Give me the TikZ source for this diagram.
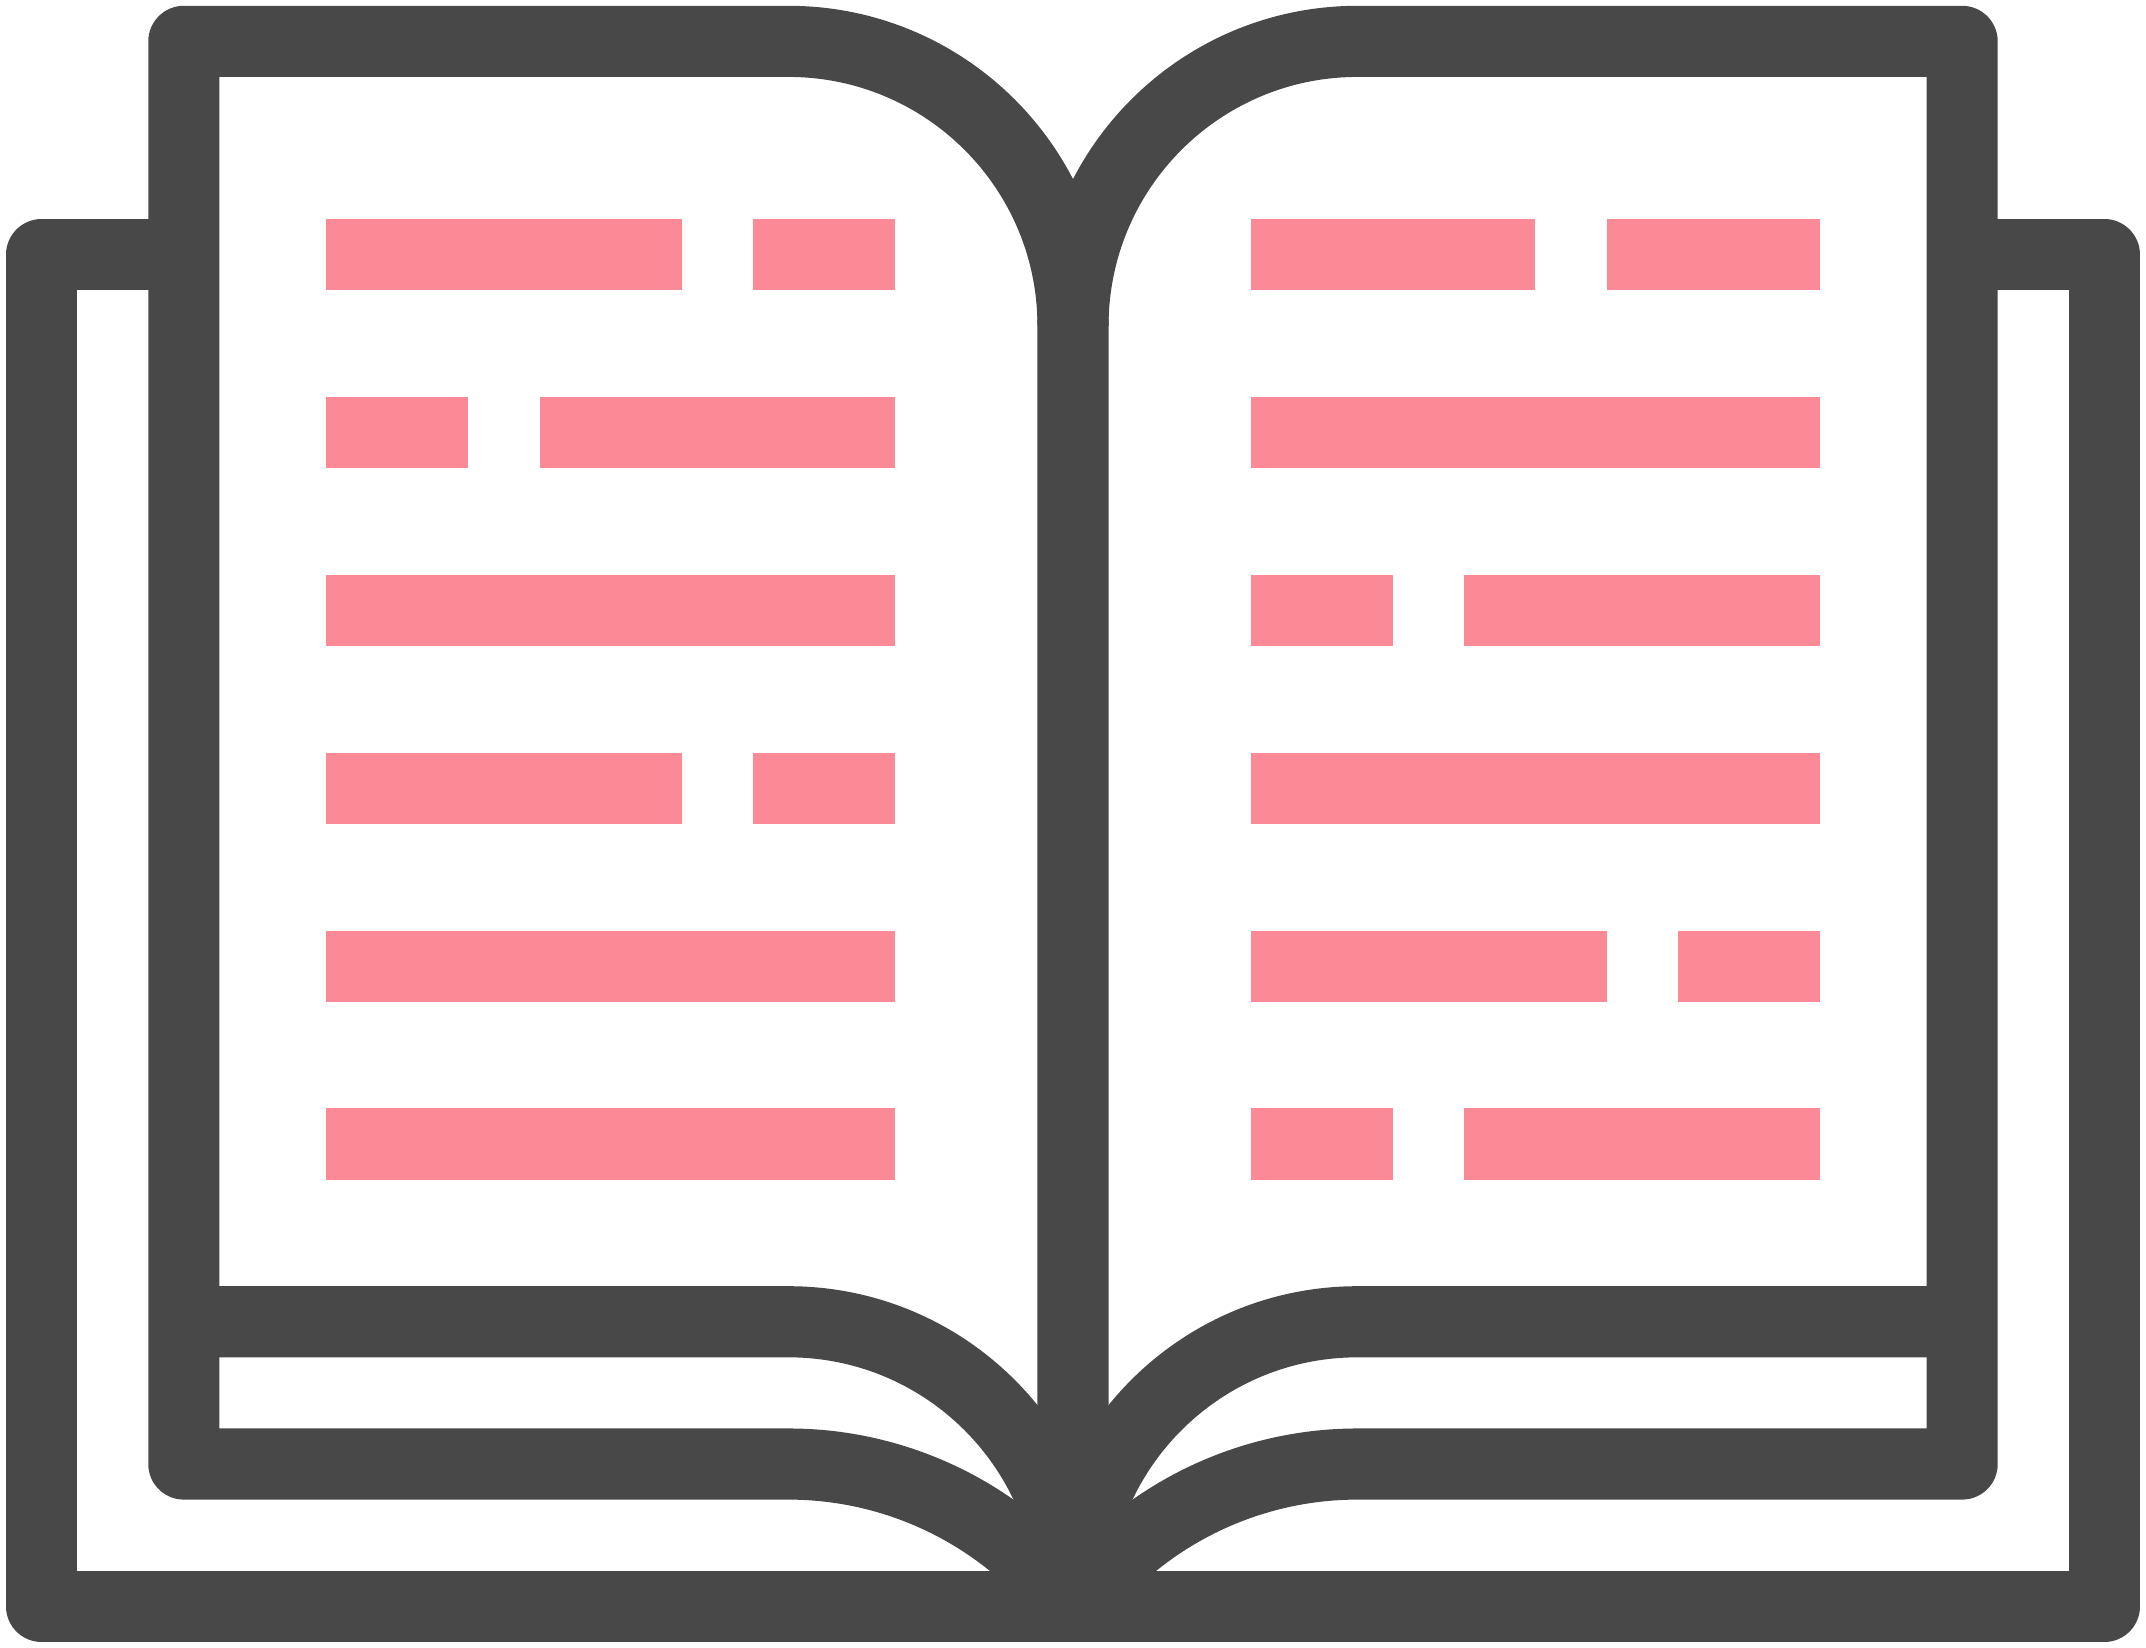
\documentclass[tikz,border=0pt]{standalone}
\usepackage{tikz}
\usepackage{xcolor}
\definecolor{coverink}{RGB}{72,72,72}
\definecolor{linepink}{RGB}{252,137,150}

\begin{document}
\begin{tikzpicture}[scale=0.4,
  outline/.style={draw=coverink,line width=0.8cm,line join=round},
  textbar/.style={fill=linepink}]
\useasboundingbox (-0.169,-0.169) rectangle (60.169,46.164);

% ------------- text lines, left page -------------
\fill[textbar] (9,38) rectangle ++(10,2);
\fill[textbar] (21,38) rectangle ++(4,2);
\fill[textbar] (9,33) rectangle ++(4,2);
\fill[textbar] (15,33) rectangle ++(10,2);
\fill[textbar] (9,28) rectangle ++(16,2);
\fill[textbar] (9,23) rectangle ++(10,2);
\fill[textbar] (21,23) rectangle ++(4,2);
\fill[textbar] (9,18) rectangle ++(16,2);
\fill[textbar] (9,13) rectangle ++(16,2);

% ------------- text lines, right page -------------
\fill[textbar] (35,38) rectangle ++(8,2);
\fill[textbar] (45,38) rectangle ++(6,2);
\fill[textbar] (35,33) rectangle ++(16,2);
\fill[textbar] (35,28) rectangle ++(4,2);
\fill[textbar] (41,28) rectangle ++(10,2);
\fill[textbar] (35,23) rectangle ++(16,2);
\fill[textbar] (35,18) rectangle ++(10,2);
\fill[textbar] (47,18) rectangle ++(4,2);
\fill[textbar] (35,13) rectangle ++(4,2);
\fill[textbar] (41,13) rectangle ++(10,2);

% ------------- cover -------------
\draw[outline] (5,39) -- (1,39) -- (1,1) -- (59,1) -- (59,39) -- (55,39);

% ------------- left page -------------
\draw[outline] (30,1) -- (30,37) arc (0:90:8) -- (5,45) -- (5,5) -- (22,5)
  arc (90:36.87:10);
\draw[outline] (5,9) -- (22,9) arc (90:0:8);

% ------------- right page -------------
\draw[outline] (30,37) arc (180:90:8) -- (55,45) -- (55,5) -- (38,5)
  arc (90:143.13:10);
\draw[outline] (55,9) -- (38,9) arc (90:180:8);

\end{tikzpicture}
\end{document}
